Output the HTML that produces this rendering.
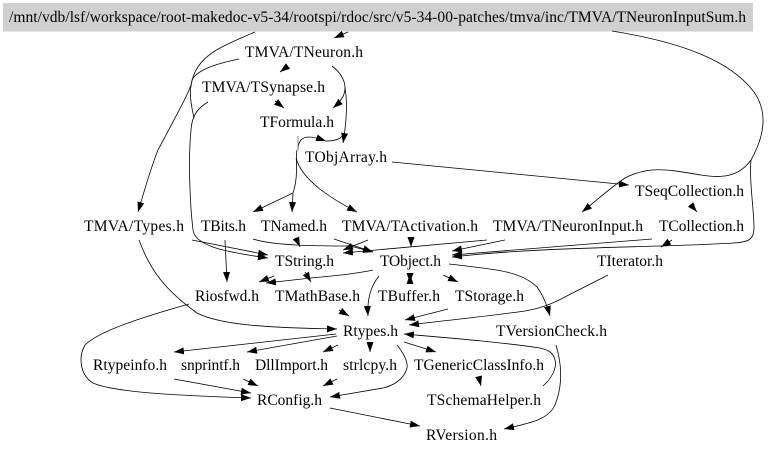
<!DOCTYPE html>
<html><head><meta charset="utf-8"><style>
html,body{margin:0;padding:0;background:#fff}
svg{display:block}
text{font-family:"Liberation Serif",serif;font-size:15.5px;fill:#000}
path{fill:none;stroke:#000;stroke-width:.8}
</style></head><body>
<svg width="768" height="453" viewBox="0 0 768 453" xmlns="http://www.w3.org/2000/svg">
<defs><marker id="a" markerUnits="userSpaceOnUse" markerWidth="11" markerHeight="8" refX="10" refY="3.5" orient="auto"><polygon points="0,0 10,3.5 0,7" fill="#000"/></marker></defs>
<rect width="768" height="453" fill="#fff"/>
<rect x="3" y="3" width="750" height="28.5" fill="#d0d0d0"/>
<g marker-end="url(#a)">
<path d="M348,32L334,38"/>
<path d="M288,66L280,72"/>
<path d="M332,66C340,72 345,80 345,88C345,96 340,102 333,108"/>
<path d="M345,88C348,105 346,125 343,143"/>
<path d="M275,101L284,108"/>
<path d="M298,150C298,140 303,137 309,137C315,137 320,139 326,141"/>
<path d="M297,150C295,160 299,175 293,193L253,212"/>
<path d="M293,193L292,212"/>
<path d="M296,158C302,180 330,198 357,212"/>
<path d="M392,162L629,185"/>
<path d="M612,31C680,42 730,60 754,92C768,112 765,135 751,160C738,178 720,178 701,175C670,170 650,165 625,178C610,188 597,200 582,212"/>
<path d="M751,160C749,180 754,210 754,228C754,240 748,242 734,243C650,248 550,246 452,257"/>
<path d="M239,59C215,64 197,70 192,80C192,88 178,112 158,150C150,170 144,192 138,212"/>
<path d="M208,102C198,108 192,115 191,130C188,160 190,205 193,230C195,246 225,252 268,258"/>
<path d="M192,240L268,255"/>
<path d="M139,240C150,270 165,290 197,313C220,325 270,328 337,329"/>
<path d="M225,240L227,282"/>
<path d="M296,238L300,247"/>
<path d="M253,239C275,246 320,246 350,246L373,252"/>
<path d="M334,239L373,252"/>
<path d="M368,240L343,250"/>
<path d="M487,240L343,253"/>
<path d="M411,238L411,247"/>
<path d="M505,240L452,251"/>
<path d="M652,239L452,255"/>
<path d="M672,240L661,247"/>
<path d="M691,205L697,212"/>
<path d="M373,270C350,275 330,276 311,278L266,283"/>
<path d="M274,276L259,282"/>
<path d="M305,272L311,282"/>
<path d="M379,276C370,287 367,300 368,316"/>
<path d="M410,274L410,283"/>
<path d="M410,283L410,274"/>
<path d="M443,275L458,282"/>
<path d="M449,264C490,269 520,270 537,287C543,295 547,305 550,316"/>
<path d="M608,275L559,300C545,307 535,309 525,311C490,316 450,320 409,325"/>
<path d="M448,309L405,320"/>
<path d="M339,310L349,316"/>
<path d="M189,304C150,315 100,330 85,345C78,357 80,375 93,383C115,393 190,396 251,398"/>
<path d="M336,334L174,352"/>
<path d="M337,336L247,352"/>
<path d="M338,345L323,352"/>
<path d="M370,344L370,352"/>
<path d="M404,342L436,352"/>
<path d="M479,378L481,386"/>
<path d="M397,345C405,355 408,362 407,368C404,380 392,386 383,388L330,397"/>
<path d="M174,379L251,393"/>
<path d="M243,379L258,386"/>
<path d="M337,379L323,386"/>
<path d="M330,408L420,426"/>
<path d="M556,345C562,365 563,385 555,405C548,420 530,423 504,429"/>
<path d="M543,386C552,378 557,368 555,360C553,352 548,350 540,348C500,342 450,338 404,334"/>
</g>
<path d="M255,32C225,45 205,52 195,72C188,88 190,100 194,118"/>
<path d="M326,141C333,141 340,140 343,135"/>
<path d="M298,136V150" style="stroke:#777"/>
<text x="9" y="22" textLength="737">/mnt/vdb/lsf/workspace/root-makedoc-v5-34/rootspi/rdoc/src/v5-34-00-patches/tmva/inc/TMVA/TNeuronInputSum.h</text>
<text x="245" y="57" textLength="118">TMVA/TNeuron.h</text>
<text x="202" y="92" textLength="123">TMVA/TSynapse.h</text>
<text x="260" y="127" textLength="74">TFormula.h</text>
<text x="305" y="162" textLength="82">TObjArray.h</text>
<text x="635" y="196" textLength="109">TSeqCollection.h</text>
<text x="84" y="231" textLength="100">TMVA/Types.h</text>
<text x="201" y="231" textLength="45">TBits.h</text>
<text x="261" y="231" textLength="66">TNamed.h</text>
<text x="342" y="231" textLength="136">TMVA/TActivation.h</text>
<text x="493" y="231" textLength="150">TMVA/TNeuronInput.h</text>
<text x="659" y="231" textLength="85">TCollection.h</text>
<text x="275" y="266" textLength="59">TString.h</text>
<text x="380" y="266" textLength="61">TObject.h</text>
<text x="597" y="266" textLength="66">TIterator.h</text>
<text x="195" y="301" textLength="64">Riosfwd.h</text>
<text x="275" y="301" textLength="85">TMathBase.h</text>
<text x="378" y="301" textLength="62">TBuffer.h</text>
<text x="455" y="301" textLength="69">TStorage.h</text>
<text x="343" y="336" textLength="55">Rtypes.h</text>
<text x="496" y="336" textLength="111">TVersionCheck.h</text>
<text x="93" y="370" textLength="74">Rtypeinfo.h</text>
<text x="181" y="370" textLength="59">snprintf.h</text>
<text x="255" y="370" textLength="73">DllImport.h</text>
<text x="343" y="370" textLength="54">strlcpy.h</text>
<text x="414" y="370" textLength="130">TGenericClassInfo.h</text>
<text x="257" y="405" textLength="65">RConfig.h</text>
<text x="427" y="405" textLength="114">TSchemaHelper.h</text>
<text x="426" y="440" textLength="71">RVersion.h</text>
</svg>
</body></html>
